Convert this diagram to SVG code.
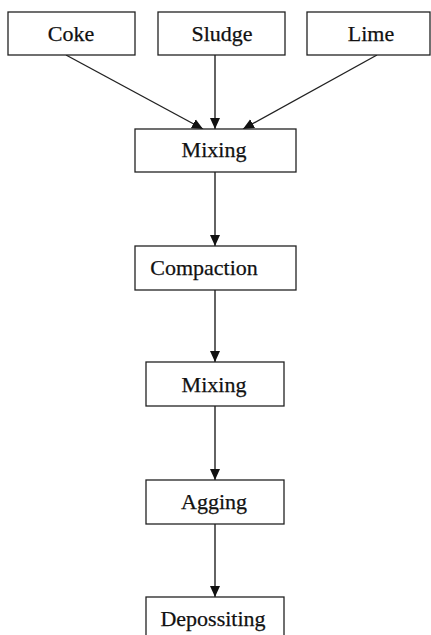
<svg xmlns="http://www.w3.org/2000/svg" width="431" height="635" viewBox="0 0 431 635">
<style>
.box{fill:#fff;stroke:#222;stroke-width:1.3}
.lbl{font-family:"Liberation Serif","Times New Roman",serif;font-size:22px;fill:#111;stroke:#111;stroke-width:0.25;text-anchor:middle}
.edge{stroke:#222;stroke-width:1.4;fill:none;marker-end:url(#ah)}
</style>
<defs>
<marker id="ah" markerUnits="userSpaceOnUse" markerWidth="12" markerHeight="12" viewBox="0 0 12 12" refX="11" refY="6" orient="auto">
<path d="M0,1 L11,6 L0,11 Z" fill="#111"/>
</marker>
</defs>
<rect width="431" height="635" fill="#fff"/>
<g id="connectors">
<line class="edge" x1="66" y1="55" x2="203" y2="129"/>
<line class="edge" x1="215" y1="55" x2="215" y2="129"/>
<line class="edge" x1="377" y1="55" x2="243" y2="129"/>
<line class="edge" x1="215" y1="172" x2="215" y2="246"/>
<line class="edge" x1="215" y1="290" x2="215" y2="362"/>
<line class="edge" x1="215" y1="406" x2="215" y2="480"/>
<line class="edge" x1="215" y1="524" x2="215" y2="597"/>
</g>
<g id="coke"><rect class="box" x="8" y="12" width="127" height="43"/><text class="lbl" x="71" y="41">Coke</text></g>
<g id="sludge"><rect class="box" x="158" y="12" width="127" height="43"/><text class="lbl" x="222" y="41">Sludge</text></g>
<g id="lime"><rect class="box" x="307" y="12" width="123" height="43"/><text class="lbl" x="371" y="41">Lime</text></g>
<g id="mixing1"><rect class="box" x="135" y="129" width="161" height="43"/><text class="lbl" x="214" y="157">Mixing</text></g>
<g id="compaction"><rect class="box" x="135" y="246" width="161" height="44"/><text class="lbl" x="204" y="275">Compaction</text></g>
<g id="mixing2"><rect class="box" x="146" y="362" width="138" height="44"/><text class="lbl" x="214" y="392">Mixing</text></g>
<g id="agging"><rect class="box" x="146" y="480" width="138" height="44"/><text class="lbl" x="214" y="509">Agging</text></g>
<g id="depossiting"><rect class="box" x="146" y="597" width="138" height="44"/><text class="lbl" x="213" y="626">Depossiting</text></g>
</svg>
